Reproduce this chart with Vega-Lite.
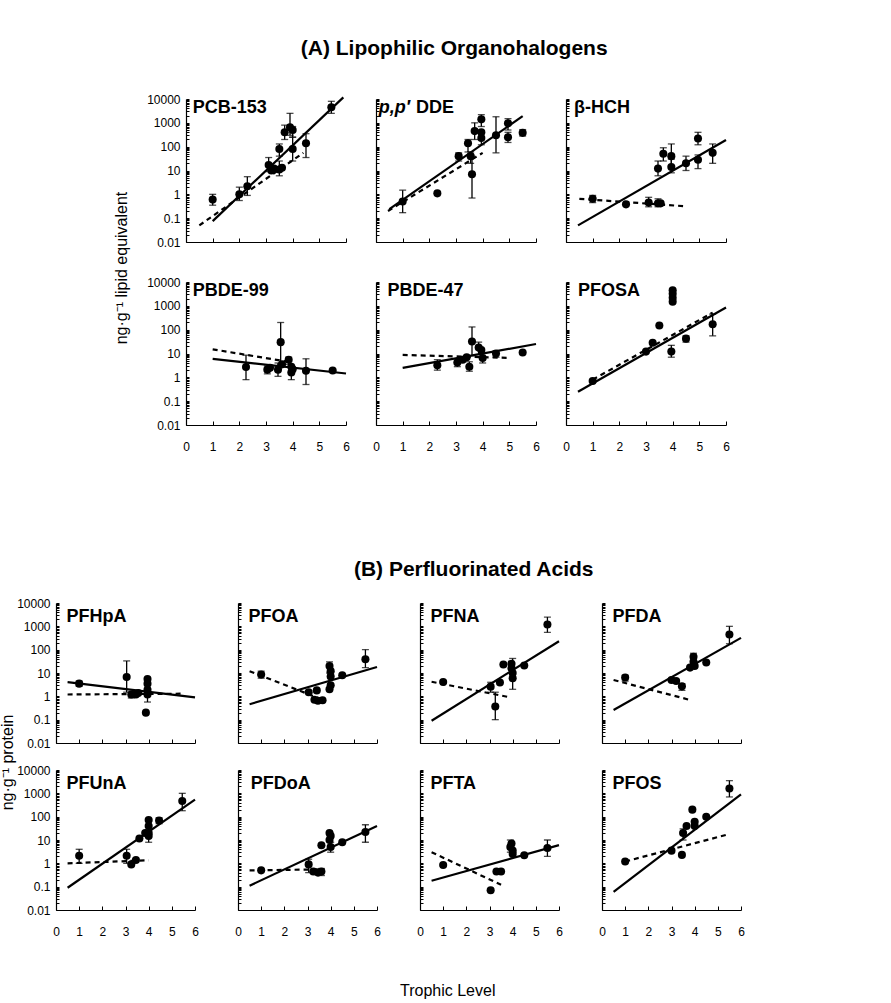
{
"$schema": "https://vega.github.io/schema/vega-lite/v6.json",
"padding": {"left": 0, "top": 37, "right": 5, "bottom": 5},
"background": "white",
"config": {
 "view": {"stroke": null},
 "font": "Liberation Sans",
 "axis": {"grid": false, "domainColor": "black", "domainWidth": 1.2, "tickColor": "black", "tickWidth": 1, "labelFont": "Liberation Sans", "labelFontSize": 12, "labelColor": "black", "labelOverlap": false, "labelFlush": false},
 "axisX": {"tickSize": -4, "labelPadding": 20},
 "axisY": {"tickSize": -3, "labelPadding": 9},
 "title": {"color": "black", "font": "Liberation Sans"},
 "circle": {"color": "black", "opacity": 1, "size": 65},
 "rule": {"color": "black", "strokeWidth": 1.3},
 "tick": {"color": "black", "thickness": 1.3},
 "line": {"color": "black", "strokeWidth": 2.2},
 "text": {"color": "black", "font": "Liberation Sans"}
},
"datasets": {"d": [
{"p":"PCB-153","k":"pt","x":1,"v":0.6,"lo":0.35,"hi":1},
{"p":"PCB-153","k":"pt","x":2,"v":1,"lo":0.55,"hi":2},
{"p":"PCB-153","k":"pt","x":2.3,"v":2.2,"lo":0.9,"hi":5.5},
{"p":"PCB-153","k":"pt","x":3.1,"v":17,"lo":9,"hi":35},
{"p":"PCB-153","k":"pt","x":3.2,"v":10},
{"p":"PCB-153","k":"pt","x":3.3,"v":12},
{"p":"PCB-153","k":"pt","x":3.5,"v":11,"lo":6,"hi":25},
{"p":"PCB-153","k":"pt","x":3.6,"v":13},
{"p":"PCB-153","k":"pt","x":3.5,"v":80,"lo":40,"hi":130},
{"p":"PCB-153","k":"pt","x":3.7,"v":400,"lo":200,"hi":800},
{"p":"PCB-153","k":"pt","x":3.9,"v":650,"lo":300,"hi":2500},
{"p":"PCB-153","k":"pt","x":4,"v":500,"lo":250,"hi":700},
{"p":"PCB-153","k":"pt","x":4,"v":80,"lo":25,"hi":250},
{"p":"PCB-153","k":"pt","x":4.5,"v":140,"lo":35,"hi":350},
{"p":"PCB-153","k":"pt","x":5.45,"v":4500,"lo":2500,"hi":8000},
{"p":"PCB-153","k":"s","x":1,"v":0.075},
{"p":"PCB-153","k":"s","x":5.9,"v":11700},
{"p":"PCB-153","k":"d","x":0.5,"v":0.05},
{"p":"PCB-153","k":"d","x":4.4,"v":55},
{"p":"DDE","k":"pt","x":1,"v":0.5,"lo":0.17,"hi":1.5},
{"p":"DDE","k":"pt","x":2.3,"v":1.1},
{"p":"DDE","k":"pt","x":3.1,"v":40,"lo":25,"hi":55},
{"p":"DDE","k":"pt","x":3.45,"v":140,"lo":60,"hi":200},
{"p":"DDE","k":"pt","x":3.55,"v":40,"lo":20,"hi":60},
{"p":"DDE","k":"pt","x":3.6,"v":7,"lo":0.7,"hi":40},
{"p":"DDE","k":"pt","x":3.7,"v":450,"lo":200,"hi":1000},
{"p":"DDE","k":"pt","x":3.95,"v":1400,"lo":700,"hi":2200},
{"p":"DDE","k":"pt","x":3.95,"v":400},
{"p":"DDE","k":"pt","x":3.95,"v":230,"lo":120,"hi":450},
{"p":"DDE","k":"pt","x":4.5,"v":300,"lo":55,"hi":1800},
{"p":"DDE","k":"pt","x":4.95,"v":950,"lo":500,"hi":1500},
{"p":"DDE","k":"pt","x":4.95,"v":250,"lo":150,"hi":400},
{"p":"DDE","k":"pt","x":5.5,"v":380,"lo":280,"hi":520},
{"p":"DDE","k":"s","x":0.5,"v":0.24},
{"p":"DDE","k":"s","x":5.5,"v":1900},
{"p":"DDE","k":"d","x":0.45,"v":0.2},
{"p":"DDE","k":"d","x":4,"v":55},
{"p":"HCH","k":"pt","x":1,"v":0.65,"lo":0.45,"hi":0.9},
{"p":"HCH","k":"pt","x":2.25,"v":0.38},
{"p":"HCH","k":"pt","x":3.1,"v":0.45,"lo":0.3,"hi":0.75},
{"p":"HCH","k":"pt","x":3.45,"v":0.42,"lo":0.3,"hi":0.65},
{"p":"HCH","k":"pt","x":3.55,"v":0.42},
{"p":"HCH","k":"pt","x":3.45,"v":12,"lo":6,"hi":25},
{"p":"HCH","k":"pt","x":3.65,"v":50,"lo":25,"hi":90},
{"p":"HCH","k":"pt","x":3.95,"v":40,"lo":15,"hi":130},
{"p":"HCH","k":"pt","x":3.95,"v":14,"lo":8,"hi":30},
{"p":"HCH","k":"pt","x":4.5,"v":20,"lo":10,"hi":40},
{"p":"HCH","k":"pt","x":4.95,"v":28,"lo":12,"hi":45},
{"p":"HCH","k":"pt","x":4.95,"v":220,"lo":120,"hi":400},
{"p":"HCH","k":"pt","x":5.5,"v":55,"lo":20,"hi":130},
{"p":"HCH","k":"s","x":0.45,"v":0.05},
{"p":"HCH","k":"s","x":6,"v":190},
{"p":"HCH","k":"d","x":0.5,"v":0.65},
{"p":"HCH","k":"d","x":4.4,"v":0.32},
{"p":"PBDE-99","k":"pt","x":2.25,"v":2.7,"lo":0.8,"hi":8.5},
{"p":"PBDE-99","k":"pt","x":3.05,"v":2.1,"lo":1.4,"hi":3},
{"p":"PBDE-99","k":"pt","x":3.15,"v":2.5},
{"p":"PBDE-99","k":"pt","x":3.45,"v":2.1,"lo":1.1,"hi":4},
{"p":"PBDE-99","k":"pt","x":3.6,"v":3.5},
{"p":"PBDE-99","k":"pt","x":3.55,"v":30,"lo":3.5,"hi":200},
{"p":"PBDE-99","k":"pt","x":3.85,"v":5.5,"lo":3.5,"hi":7},
{"p":"PBDE-99","k":"pt","x":3.95,"v":2.8},
{"p":"PBDE-99","k":"pt","x":3.95,"v":1.6,"lo":0.8,"hi":3},
{"p":"PBDE-99","k":"pt","x":4,"v":2.2},
{"p":"PBDE-99","k":"pt","x":4.5,"v":1.9,"lo":0.5,"hi":6},
{"p":"PBDE-99","k":"pt","x":5.5,"v":1.95},
{"p":"PBDE-99","k":"s","x":1,"v":6},
{"p":"PBDE-99","k":"s","x":6,"v":1.45},
{"p":"PBDE-99","k":"d","x":1,"v":15},
{"p":"PBDE-99","k":"d","x":4,"v":4.2},
{"p":"PBDE-47","k":"pt","x":2.3,"v":3.2,"lo":2,"hi":5.5},
{"p":"PBDE-47","k":"pt","x":3.05,"v":4.2,"lo":2.8,"hi":6},
{"p":"PBDE-47","k":"pt","x":3.25,"v":5.5},
{"p":"PBDE-47","k":"pt","x":3.4,"v":7},
{"p":"PBDE-47","k":"pt","x":3.5,"v":2.8,"lo":1.8,"hi":4.5},
{"p":"PBDE-47","k":"pt","x":3.6,"v":32,"lo":8,"hi":130},
{"p":"PBDE-47","k":"pt","x":3.85,"v":18,"lo":9,"hi":30},
{"p":"PBDE-47","k":"pt","x":3.95,"v":14},
{"p":"PBDE-47","k":"pt","x":4,"v":6.5,"lo":4,"hi":10},
{"p":"PBDE-47","k":"pt","x":4.5,"v":10,"lo":7,"hi":13},
{"p":"PBDE-47","k":"pt","x":5.5,"v":11},
{"p":"PBDE-47","k":"s","x":1,"v":2.5},
{"p":"PBDE-47","k":"s","x":6,"v":25},
{"p":"PBDE-47","k":"d","x":1,"v":8.7},
{"p":"PBDE-47","k":"d","x":4.9,"v":6.6},
{"p":"PFOSA","k":"pt","x":1,"v":0.7},
{"p":"PFOSA","k":"pt","x":3,"v":12},
{"p":"PFOSA","k":"pt","x":3.25,"v":28},
{"p":"PFOSA","k":"pt","x":3.5,"v":150},
{"p":"PFOSA","k":"pt","x":3.95,"v":12,"lo":7,"hi":22},
{"p":"PFOSA","k":"pt","x":4,"v":4500},
{"p":"PFOSA","k":"pt","x":4,"v":3200},
{"p":"PFOSA","k":"pt","x":4,"v":2200},
{"p":"PFOSA","k":"pt","x":4,"v":1500},
{"p":"PFOSA","k":"pt","x":4.5,"v":42,"lo":30,"hi":55},
{"p":"PFOSA","k":"pt","x":5.5,"v":170,"lo":55,"hi":450},
{"p":"PFOSA","k":"s","x":0.45,"v":0.25},
{"p":"PFOSA","k":"s","x":6,"v":850},
{"p":"PFOSA","k":"d","x":1,"v":0.8},
{"p":"PFOSA","k":"d","x":5.5,"v":520},
{"p":"PFHpA","k":"pt","x":1,"v":3.5,"lo":2.7,"hi":4.5},
{"p":"PFHpA","k":"pt","x":3.05,"v":6.8,"lo":1.5,"hi":33},
{"p":"PFHpA","k":"pt","x":3.25,"v":1.2,"lo":0.85,"hi":1.5},
{"p":"PFHpA","k":"pt","x":3.45,"v":1.2},
{"p":"PFHpA","k":"pt","x":3.55,"v":1.4},
{"p":"PFHpA","k":"pt","x":3.88,"v":0.2},
{"p":"PFHpA","k":"pt","x":3.95,"v":5.5},
{"p":"PFHpA","k":"pt","x":3.95,"v":3.5},
{"p":"PFHpA","k":"pt","x":3.95,"v":1.9},
{"p":"PFHpA","k":"pt","x":3.95,"v":1.2,"lo":0.57,"hi":2},
{"p":"PFHpA","k":"s","x":0.5,"v":4.1},
{"p":"PFHpA","k":"s","x":6,"v":0.9},
{"p":"PFHpA","k":"d","x":0.5,"v":1.2},
{"p":"PFHpA","k":"d","x":5.5,"v":1.3},
{"p":"PFOA","k":"pt","x":1,"v":8.7,"lo":6,"hi":12},
{"p":"PFOA","k":"pt","x":3.05,"v":1.5},
{"p":"PFOA","k":"pt","x":3.4,"v":1.8},
{"p":"PFOA","k":"pt","x":3.3,"v":0.72},
{"p":"PFOA","k":"pt","x":3.45,"v":0.65},
{"p":"PFOA","k":"pt","x":3.65,"v":0.68},
{"p":"PFOA","k":"pt","x":3.95,"v":20,"lo":10,"hi":30},
{"p":"PFOA","k":"pt","x":4,"v":12},
{"p":"PFOA","k":"pt","x":4,"v":7},
{"p":"PFOA","k":"pt","x":4,"v":3},
{"p":"PFOA","k":"pt","x":3.95,"v":2},
{"p":"PFOA","k":"pt","x":4.5,"v":8},
{"p":"PFOA","k":"pt","x":5.5,"v":39,"lo":17,"hi":100},
{"p":"PFOA","k":"s","x":0.5,"v":0.46},
{"p":"PFOA","k":"s","x":6,"v":18},
{"p":"PFOA","k":"d","x":0.5,"v":12},
{"p":"PFOA","k":"d","x":3.6,"v":0.75},
{"p":"PFNA","k":"pt","x":1,"v":4.1},
{"p":"PFNA","k":"pt","x":3.05,"v":2.6,"lo":1.5,"hi":4},
{"p":"PFNA","k":"pt","x":3.25,"v":0.37,"lo":0.1,"hi":1.5},
{"p":"PFNA","k":"pt","x":3.45,"v":3.9},
{"p":"PFNA","k":"pt","x":3.6,"v":23},
{"p":"PFNA","k":"pt","x":3.95,"v":25},
{"p":"PFNA","k":"pt","x":3.95,"v":16},
{"p":"PFNA","k":"pt","x":4,"v":10,"lo":2,"hi":42},
{"p":"PFNA","k":"pt","x":4,"v":6},
{"p":"PFNA","k":"pt","x":4.5,"v":21},
{"p":"PFNA","k":"pt","x":5.5,"v":1200,"lo":550,"hi":2500},
{"p":"PFNA","k":"s","x":0.5,"v":0.09},
{"p":"PFNA","k":"s","x":6,"v":230},
{"p":"PFNA","k":"d","x":0.5,"v":4.2},
{"p":"PFNA","k":"d","x":3.9,"v":0.9},
{"p":"PFDA","k":"pt","x":1,"v":6.4,"lo":4.5,"hi":8},
{"p":"PFDA","k":"pt","x":3,"v":5},
{"p":"PFDA","k":"pt","x":3.2,"v":4.5},
{"p":"PFDA","k":"pt","x":3.45,"v":2.7,"lo":1.8,"hi":3.5},
{"p":"PFDA","k":"pt","x":3.8,"v":17},
{"p":"PFDA","k":"pt","x":3.95,"v":50,"lo":25,"hi":70},
{"p":"PFDA","k":"pt","x":3.95,"v":30},
{"p":"PFDA","k":"pt","x":4,"v":20},
{"p":"PFDA","k":"pt","x":4.5,"v":28},
{"p":"PFDA","k":"pt","x":5.5,"v":450,"lo":180,"hi":1000},
{"p":"PFDA","k":"s","x":0.5,"v":0.26},
{"p":"PFDA","k":"s","x":6,"v":320},
{"p":"PFDA","k":"d","x":0.5,"v":5},
{"p":"PFDA","k":"d","x":3.8,"v":0.7},
{"p":"PFUnA","k":"pt","x":1,"v":2.1,"lo":1,"hi":4},
{"p":"PFUnA","k":"pt","x":3.05,"v":2.1,"lo":1,"hi":4},
{"p":"PFUnA","k":"pt","x":3.25,"v":0.9},
{"p":"PFUnA","k":"pt","x":3.45,"v":1.4},
{"p":"PFUnA","k":"pt","x":3.6,"v":11.5},
{"p":"PFUnA","k":"pt","x":3.85,"v":20},
{"p":"PFUnA","k":"pt","x":4,"v":72},
{"p":"PFUnA","k":"pt","x":4,"v":40},
{"p":"PFUnA","k":"pt","x":4,"v":20},
{"p":"PFUnA","k":"pt","x":4,"v":15,"lo":8,"hi":25},
{"p":"PFUnA","k":"pt","x":4.45,"v":68,"lo":50,"hi":90},
{"p":"PFUnA","k":"pt","x":5.45,"v":470,"lo":180,"hi":1000},
{"p":"PFUnA","k":"s","x":0.5,"v":0.09},
{"p":"PFUnA","k":"s","x":6,"v":540},
{"p":"PFUnA","k":"d","x":0.5,"v":1},
{"p":"PFUnA","k":"d","x":4,"v":1.35},
{"p":"PFDoA","k":"pt","x":1,"v":0.5},
{"p":"PFDoA","k":"pt","x":3.05,"v":0.9,"lo":0.4,"hi":1.5},
{"p":"PFDoA","k":"pt","x":3.25,"v":0.45},
{"p":"PFDoA","k":"pt","x":3.45,"v":0.4},
{"p":"PFDoA","k":"pt","x":3.6,"v":0.45,"lo":0.3,"hi":0.6},
{"p":"PFDoA","k":"pt","x":3.6,"v":6},
{"p":"PFDoA","k":"pt","x":3.95,"v":20},
{"p":"PFDoA","k":"pt","x":4,"v":15},
{"p":"PFDoA","k":"pt","x":3.95,"v":10},
{"p":"PFDoA","k":"pt","x":4,"v":5,"lo":3,"hi":8},
{"p":"PFDoA","k":"pt","x":4.5,"v":8},
{"p":"PFDoA","k":"pt","x":5.5,"v":22,"lo":8,"hi":45},
{"p":"PFDoA","k":"s","x":0.5,"v":0.11},
{"p":"PFDoA","k":"s","x":6,"v":40},
{"p":"PFDoA","k":"d","x":0.5,"v":0.5},
{"p":"PFDoA","k":"d","x":3.7,"v":0.55},
{"p":"PFTA","k":"pt","x":1,"v":0.85},
{"p":"PFTA","k":"pt","x":3.05,"v":0.07},
{"p":"PFTA","k":"pt","x":3.3,"v":0.45},
{"p":"PFTA","k":"pt","x":3.5,"v":0.45},
{"p":"PFTA","k":"pt","x":3.9,"v":5,"lo":3,"hi":10},
{"p":"PFTA","k":"pt","x":4,"v":3.5},
{"p":"PFTA","k":"pt","x":4,"v":2.5},
{"p":"PFTA","k":"pt","x":3.95,"v":7},
{"p":"PFTA","k":"pt","x":4.5,"v":2.2},
{"p":"PFTA","k":"pt","x":5.5,"v":4.5,"lo":2,"hi":10},
{"p":"PFTA","k":"s","x":0.5,"v":0.18},
{"p":"PFTA","k":"s","x":6,"v":6},
{"p":"PFTA","k":"d","x":0.5,"v":3},
{"p":"PFTA","k":"d","x":3.5,"v":0.12},
{"p":"PFOS","k":"pt","x":1,"v":1.2},
{"p":"PFOS","k":"pt","x":3,"v":3.5},
{"p":"PFOS","k":"pt","x":3.45,"v":2.3},
{"p":"PFOS","k":"pt","x":3.5,"v":20,"lo":10,"hi":30},
{"p":"PFOS","k":"pt","x":3.65,"v":40},
{"p":"PFOS","k":"pt","x":3.9,"v":200},
{"p":"PFOS","k":"pt","x":4,"v":60},
{"p":"PFOS","k":"pt","x":4,"v":40},
{"p":"PFOS","k":"pt","x":4.5,"v":100},
{"p":"PFOS","k":"pt","x":5.5,"v":1600,"lo":700,"hi":3500},
{"p":"PFOS","k":"s","x":0.5,"v":0.06},
{"p":"PFOS","k":"s","x":6,"v":900},
{"p":"PFOS","k":"d","x":1,"v":1.2},
{"p":"PFOS","k":"d","x":5.5,"v":18}
]},
"title": {"text": "Trophic Level", "orient": "bottom", "anchor": "middle", "fontSize": 16, "fontWeight": "normal", "offset": 46, "dx": 75},
"spacing": 107,
"vconcat": [
{"title": {"text": "(A) Lipophilic Organohalogens", "anchor": "middle", "dx": 88, "offset": 34, "fontSize": 21, "fontWeight": "bold"},
 "spacing": 6,
 "hconcat": [
  {"width": 138, "height": 338, "data": {"values": [{}]}, "mark": {"type": "text", "angle": 270, "fontSize": 16, "baseline": "middle", "align": "center"},
   "encoding": {"x": {"datum": 0.87, "type": "quantitative", "scale": {"domain": [0, 1]}, "axis": null}, "y": {"datum": 0.5, "type": "quantitative", "scale": {"domain": [0, 1]}, "axis": null}, "text": {"value": "ng·g⁻¹ lipid equivalent"}}},
  {"columns": 3, "spacing": {"row": 40, "column": 30}, "bounds": "flush", "concat": [
   {"width":160,"height":143,"data":{"name":"d"},"transform":[{"filter":"datum.p==='PCB-153'"}],
    "layer":[
     {"encoding":{"x":{"field":"x","type":"quantitative","scale":{"domain":[0,6],"nice":false,"zero":false},"axis":{"values":[0,1,2,3,4,5,6],"labels":false,"labelOverlap":false,"title":null}}},
      "layer":[
       {"transform":[{"filter":"isValid(datum.lo)"}],"mark":"rule","encoding":{"y":{"field":"lo","type":"quantitative","scale":{"type":"log","domain":[0.01,10000],"nice":false}},"y2":{"field":"hi"}}},
       {"transform":[{"filter":"isValid(datum.lo)"}],"mark":{"type":"tick","orient":"horizontal","size":7},"encoding":{"y":{"field":"lo","type":"quantitative","scale":{"type":"log","domain":[0.01,10000],"nice":false}}}},
       {"transform":[{"filter":"isValid(datum.hi)"}],"mark":{"type":"tick","orient":"horizontal","size":7},"encoding":{"y":{"field":"hi","type":"quantitative","scale":{"type":"log","domain":[0.01,10000],"nice":false}}}},
       {"transform":[{"filter":"datum.k==='s'"}],"mark":"line","encoding":{"y":{"field":"v","type":"quantitative","scale":{"type":"log","domain":[0.01,10000],"nice":false}}}},
       {"transform":[{"filter":"datum.k==='d'"}],"mark":{"type":"line","strokeDash":[5,4]},"encoding":{"y":{"field":"v","type":"quantitative","scale":{"type":"log","domain":[0.01,10000],"nice":false}}}},
       {"transform":[{"filter":"datum.k==='pt'"}],"mark":"circle","encoding":{"y":{"field":"v","type":"quantitative","scale":{"type":"log","domain":[0.01,10000],"nice":false},"axis":{"values":[0.01,0.02,0.03,0.04,0.05,0.06,0.07,0.08,0.09,0.1,0.2,0.3,0.4,0.5,0.6,0.7,0.8,0.9,1,2,3,4,5,6,7,8,9,10,20,30,40,50,60,70,80,90,100,200,300,400,500,600,700,800,900,1000,2000,3000,4000,5000,6000,7000,8000,9000,10000],"labelExpr":"abs(log(datum.value)/LN10-round(log(datum.value)/LN10))<0.001 ? format(datum.value,'') : ''","labels":true,"labelOverlap":false,"title":null}}}}
      ]},
     {"data":{"values":[{"p":"PCB-153","t":"PCB-153"}]},"mark":{"type":"text","align":"left","baseline":"middle","fontWeight":"bold","fontSize":18},"encoding":{"x":{"datum":0.25,"type":"quantitative","axis":{"values":[0,1,2,3,4,5,6],"labels":false,"labelOverlap":false,"title":null}},"y":{"datum":4300,"type":"quantitative"},"text":{"field":"t"}}}
    ]},
   {"width":160,"height":143,"data":{"name":"d"},"transform":[{"filter":"datum.p==='DDE'"}],
    "layer":[
     {"encoding":{"x":{"field":"x","type":"quantitative","scale":{"domain":[0,6],"nice":false,"zero":false},"axis":{"values":[0,1,2,3,4,5,6],"labels":false,"labelOverlap":false,"title":null}}},
      "layer":[
       {"transform":[{"filter":"isValid(datum.lo)"}],"mark":"rule","encoding":{"y":{"field":"lo","type":"quantitative","scale":{"type":"log","domain":[0.01,10000],"nice":false}},"y2":{"field":"hi"}}},
       {"transform":[{"filter":"isValid(datum.lo)"}],"mark":{"type":"tick","orient":"horizontal","size":7},"encoding":{"y":{"field":"lo","type":"quantitative","scale":{"type":"log","domain":[0.01,10000],"nice":false}}}},
       {"transform":[{"filter":"isValid(datum.hi)"}],"mark":{"type":"tick","orient":"horizontal","size":7},"encoding":{"y":{"field":"hi","type":"quantitative","scale":{"type":"log","domain":[0.01,10000],"nice":false}}}},
       {"transform":[{"filter":"datum.k==='s'"}],"mark":"line","encoding":{"y":{"field":"v","type":"quantitative","scale":{"type":"log","domain":[0.01,10000],"nice":false}}}},
       {"transform":[{"filter":"datum.k==='d'"}],"mark":{"type":"line","strokeDash":[5,4]},"encoding":{"y":{"field":"v","type":"quantitative","scale":{"type":"log","domain":[0.01,10000],"nice":false}}}},
       {"transform":[{"filter":"datum.k==='pt'"}],"mark":"circle","encoding":{"y":{"field":"v","type":"quantitative","scale":{"type":"log","domain":[0.01,10000],"nice":false},"axis":{"values":[0.01,0.02,0.03,0.04,0.05,0.06,0.07,0.08,0.09,0.1,0.2,0.3,0.4,0.5,0.6,0.7,0.8,0.9,1,2,3,4,5,6,7,8,9,10,20,30,40,50,60,70,80,90,100,200,300,400,500,600,700,800,900,1000,2000,3000,4000,5000,6000,7000,8000,9000,10000],"labels":false,"title":null}}}}
      ]},
     {"data":{"values":[{"p":"DDE","t":"p,p′"}]},"mark":{"type":"text","align":"left","baseline":"middle","fontWeight":"bold","fontStyle":"italic","fontSize":18},"encoding":{"x":{"datum":0.1,"type":"quantitative","axis":{"values":[0,1,2,3,4,5,6],"labels":false,"labelOverlap":false,"title":null}},"y":{"datum":4300,"type":"quantitative"},"text":{"field":"t"}}},
     {"data":{"values":[{"p":"DDE","t":"DDE"}]},"mark":{"type":"text","align":"left","baseline":"middle","fontWeight":"bold","fontSize":18},"encoding":{"x":{"datum":1.5,"type":"quantitative","axis":{"values":[0,1,2,3,4,5,6],"labels":false,"labelOverlap":false,"title":null}},"y":{"datum":4300,"type":"quantitative"},"text":{"field":"t"}}}
    ]},
   {"width":160,"height":143,"data":{"name":"d"},"transform":[{"filter":"datum.p==='HCH'"}],
    "layer":[
     {"encoding":{"x":{"field":"x","type":"quantitative","scale":{"domain":[0,6],"nice":false,"zero":false},"axis":{"values":[0,1,2,3,4,5,6],"labels":false,"labelOverlap":false,"title":null}}},
      "layer":[
       {"transform":[{"filter":"isValid(datum.lo)"}],"mark":"rule","encoding":{"y":{"field":"lo","type":"quantitative","scale":{"type":"log","domain":[0.01,10000],"nice":false}},"y2":{"field":"hi"}}},
       {"transform":[{"filter":"isValid(datum.lo)"}],"mark":{"type":"tick","orient":"horizontal","size":7},"encoding":{"y":{"field":"lo","type":"quantitative","scale":{"type":"log","domain":[0.01,10000],"nice":false}}}},
       {"transform":[{"filter":"isValid(datum.hi)"}],"mark":{"type":"tick","orient":"horizontal","size":7},"encoding":{"y":{"field":"hi","type":"quantitative","scale":{"type":"log","domain":[0.01,10000],"nice":false}}}},
       {"transform":[{"filter":"datum.k==='s'"}],"mark":"line","encoding":{"y":{"field":"v","type":"quantitative","scale":{"type":"log","domain":[0.01,10000],"nice":false}}}},
       {"transform":[{"filter":"datum.k==='d'"}],"mark":{"type":"line","strokeDash":[5,4]},"encoding":{"y":{"field":"v","type":"quantitative","scale":{"type":"log","domain":[0.01,10000],"nice":false}}}},
       {"transform":[{"filter":"datum.k==='pt'"}],"mark":"circle","encoding":{"y":{"field":"v","type":"quantitative","scale":{"type":"log","domain":[0.01,10000],"nice":false},"axis":{"values":[0.01,0.02,0.03,0.04,0.05,0.06,0.07,0.08,0.09,0.1,0.2,0.3,0.4,0.5,0.6,0.7,0.8,0.9,1,2,3,4,5,6,7,8,9,10,20,30,40,50,60,70,80,90,100,200,300,400,500,600,700,800,900,1000,2000,3000,4000,5000,6000,7000,8000,9000,10000],"labels":false,"title":null}}}}
      ]},
     {"data":{"values":[{"p":"HCH","t":"β-HCH"}]},"mark":{"type":"text","align":"left","baseline":"middle","fontWeight":"bold","fontSize":18},"encoding":{"x":{"datum":0.3,"type":"quantitative","axis":{"values":[0,1,2,3,4,5,6],"labels":false,"labelOverlap":false,"title":null}},"y":{"datum":4300,"type":"quantitative"},"text":{"field":"t"}}}
    ]},
   {"width":160,"height":143,"data":{"name":"d"},"transform":[{"filter":"datum.p==='PBDE-99'"}],
    "layer":[
     {"encoding":{"x":{"field":"x","type":"quantitative","scale":{"domain":[0,6],"nice":false,"zero":false},"axis":{"values":[0,1,2,3,4,5,6],"labels":true,"labelOverlap":false,"title":null}}},
      "layer":[
       {"transform":[{"filter":"isValid(datum.lo)"}],"mark":"rule","encoding":{"y":{"field":"lo","type":"quantitative","scale":{"type":"log","domain":[0.01,10000],"nice":false}},"y2":{"field":"hi"}}},
       {"transform":[{"filter":"isValid(datum.lo)"}],"mark":{"type":"tick","orient":"horizontal","size":7},"encoding":{"y":{"field":"lo","type":"quantitative","scale":{"type":"log","domain":[0.01,10000],"nice":false}}}},
       {"transform":[{"filter":"isValid(datum.hi)"}],"mark":{"type":"tick","orient":"horizontal","size":7},"encoding":{"y":{"field":"hi","type":"quantitative","scale":{"type":"log","domain":[0.01,10000],"nice":false}}}},
       {"transform":[{"filter":"datum.k==='s'"}],"mark":"line","encoding":{"y":{"field":"v","type":"quantitative","scale":{"type":"log","domain":[0.01,10000],"nice":false}}}},
       {"transform":[{"filter":"datum.k==='d'"}],"mark":{"type":"line","strokeDash":[5,4]},"encoding":{"y":{"field":"v","type":"quantitative","scale":{"type":"log","domain":[0.01,10000],"nice":false}}}},
       {"transform":[{"filter":"datum.k==='pt'"}],"mark":"circle","encoding":{"y":{"field":"v","type":"quantitative","scale":{"type":"log","domain":[0.01,10000],"nice":false},"axis":{"values":[0.01,0.02,0.03,0.04,0.05,0.06,0.07,0.08,0.09,0.1,0.2,0.3,0.4,0.5,0.6,0.7,0.8,0.9,1,2,3,4,5,6,7,8,9,10,20,30,40,50,60,70,80,90,100,200,300,400,500,600,700,800,900,1000,2000,3000,4000,5000,6000,7000,8000,9000,10000],"labelExpr":"abs(log(datum.value)/LN10-round(log(datum.value)/LN10))<0.001 ? format(datum.value,'') : ''","labels":true,"labelOverlap":false,"title":null}}}}
      ]},
     {"data":{"values":[{"p":"PBDE-99","t":"PBDE-99"}]},"mark":{"type":"text","align":"left","baseline":"middle","fontWeight":"bold","fontSize":18},"encoding":{"x":{"datum":0.25,"type":"quantitative","axis":{"values":[0,1,2,3,4,5,6],"labels":true,"labelOverlap":false,"title":null}},"y":{"datum":4300,"type":"quantitative"},"text":{"field":"t"}}}
    ]},
   {"width":160,"height":143,"data":{"name":"d"},"transform":[{"filter":"datum.p==='PBDE-47'"}],
    "layer":[
     {"encoding":{"x":{"field":"x","type":"quantitative","scale":{"domain":[0,6],"nice":false,"zero":false},"axis":{"values":[0,1,2,3,4,5,6],"labels":true,"labelOverlap":false,"title":null}}},
      "layer":[
       {"transform":[{"filter":"isValid(datum.lo)"}],"mark":"rule","encoding":{"y":{"field":"lo","type":"quantitative","scale":{"type":"log","domain":[0.01,10000],"nice":false}},"y2":{"field":"hi"}}},
       {"transform":[{"filter":"isValid(datum.lo)"}],"mark":{"type":"tick","orient":"horizontal","size":7},"encoding":{"y":{"field":"lo","type":"quantitative","scale":{"type":"log","domain":[0.01,10000],"nice":false}}}},
       {"transform":[{"filter":"isValid(datum.hi)"}],"mark":{"type":"tick","orient":"horizontal","size":7},"encoding":{"y":{"field":"hi","type":"quantitative","scale":{"type":"log","domain":[0.01,10000],"nice":false}}}},
       {"transform":[{"filter":"datum.k==='s'"}],"mark":"line","encoding":{"y":{"field":"v","type":"quantitative","scale":{"type":"log","domain":[0.01,10000],"nice":false}}}},
       {"transform":[{"filter":"datum.k==='d'"}],"mark":{"type":"line","strokeDash":[5,4]},"encoding":{"y":{"field":"v","type":"quantitative","scale":{"type":"log","domain":[0.01,10000],"nice":false}}}},
       {"transform":[{"filter":"datum.k==='pt'"}],"mark":"circle","encoding":{"y":{"field":"v","type":"quantitative","scale":{"type":"log","domain":[0.01,10000],"nice":false},"axis":{"values":[0.01,0.02,0.03,0.04,0.05,0.06,0.07,0.08,0.09,0.1,0.2,0.3,0.4,0.5,0.6,0.7,0.8,0.9,1,2,3,4,5,6,7,8,9,10,20,30,40,50,60,70,80,90,100,200,300,400,500,600,700,800,900,1000,2000,3000,4000,5000,6000,7000,8000,9000,10000],"labels":false,"title":null}}}}
      ]},
     {"data":{"values":[{"p":"PBDE-47","t":"PBDE-47"}]},"mark":{"type":"text","align":"left","baseline":"middle","fontWeight":"bold","fontSize":18},"encoding":{"x":{"datum":0.43,"type":"quantitative","axis":{"values":[0,1,2,3,4,5,6],"labels":true,"labelOverlap":false,"title":null}},"y":{"datum":4300,"type":"quantitative"},"text":{"field":"t"}}}
    ]},
   {"width":160,"height":143,"data":{"name":"d"},"transform":[{"filter":"datum.p==='PFOSA'"}],
    "layer":[
     {"encoding":{"x":{"field":"x","type":"quantitative","scale":{"domain":[0,6],"nice":false,"zero":false},"axis":{"values":[0,1,2,3,4,5,6],"labels":true,"labelOverlap":false,"title":null}}},
      "layer":[
       {"transform":[{"filter":"isValid(datum.lo)"}],"mark":"rule","encoding":{"y":{"field":"lo","type":"quantitative","scale":{"type":"log","domain":[0.01,10000],"nice":false}},"y2":{"field":"hi"}}},
       {"transform":[{"filter":"isValid(datum.lo)"}],"mark":{"type":"tick","orient":"horizontal","size":7},"encoding":{"y":{"field":"lo","type":"quantitative","scale":{"type":"log","domain":[0.01,10000],"nice":false}}}},
       {"transform":[{"filter":"isValid(datum.hi)"}],"mark":{"type":"tick","orient":"horizontal","size":7},"encoding":{"y":{"field":"hi","type":"quantitative","scale":{"type":"log","domain":[0.01,10000],"nice":false}}}},
       {"transform":[{"filter":"datum.k==='s'"}],"mark":"line","encoding":{"y":{"field":"v","type":"quantitative","scale":{"type":"log","domain":[0.01,10000],"nice":false}}}},
       {"transform":[{"filter":"datum.k==='d'"}],"mark":{"type":"line","strokeDash":[5,4]},"encoding":{"y":{"field":"v","type":"quantitative","scale":{"type":"log","domain":[0.01,10000],"nice":false}}}},
       {"transform":[{"filter":"datum.k==='pt'"}],"mark":"circle","encoding":{"y":{"field":"v","type":"quantitative","scale":{"type":"log","domain":[0.01,10000],"nice":false},"axis":{"values":[0.01,0.02,0.03,0.04,0.05,0.06,0.07,0.08,0.09,0.1,0.2,0.3,0.4,0.5,0.6,0.7,0.8,0.9,1,2,3,4,5,6,7,8,9,10,20,30,40,50,60,70,80,90,100,200,300,400,500,600,700,800,900,1000,2000,3000,4000,5000,6000,7000,8000,9000,10000],"labels":false,"title":null}}}}
      ]},
     {"data":{"values":[{"p":"PFOSA","t":"PFOSA"}]},"mark":{"type":"text","align":"left","baseline":"middle","fontWeight":"bold","fontSize":18},"encoding":{"x":{"datum":0.45,"type":"quantitative","axis":{"values":[0,1,2,3,4,5,6],"labels":true,"labelOverlap":false,"title":null}},"y":{"datum":4300,"type":"quantitative"},"text":{"field":"t"}}}
    ]}
  ]}
 ]},
{"title": {"text": "(B) Perfluorinated Acids", "anchor": "middle", "dx": 101, "offset": 17, "fontSize": 21, "fontWeight": "bold"},
 "spacing": 0,
 "hconcat": [
  {"width": 10, "height": 319, "data": {"values": [{}]}, "mark": {"type": "text", "angle": 270, "fontSize": 16, "baseline": "middle", "align": "center"},
   "encoding": {"x": {"datum": 0.6, "type": "quantitative", "scale": {"domain": [0, 1]}, "axis": null}, "y": {"datum": 0.5, "type": "quantitative", "scale": {"domain": [0, 1]}, "axis": null}, "text": {"value": "ng·g⁻¹ protein"}}},
  {"columns": 4, "spacing": {"row": 27, "column": 43}, "bounds": "flush", "concat": [
   {"width":139,"height":140,"data":{"name":"d"},"transform":[{"filter":"datum.p==='PFHpA'"}],
    "layer":[
     {"encoding":{"x":{"field":"x","type":"quantitative","scale":{"domain":[0,6],"nice":false,"zero":false},"axis":{"values":[0,1,2,3,4,5,6],"labels":false,"labelOverlap":false,"title":null}}},
      "layer":[
       {"transform":[{"filter":"isValid(datum.lo)"}],"mark":"rule","encoding":{"y":{"field":"lo","type":"quantitative","scale":{"type":"log","domain":[0.01,10000],"nice":false}},"y2":{"field":"hi"}}},
       {"transform":[{"filter":"isValid(datum.lo)"}],"mark":{"type":"tick","orient":"horizontal","size":7},"encoding":{"y":{"field":"lo","type":"quantitative","scale":{"type":"log","domain":[0.01,10000],"nice":false}}}},
       {"transform":[{"filter":"isValid(datum.hi)"}],"mark":{"type":"tick","orient":"horizontal","size":7},"encoding":{"y":{"field":"hi","type":"quantitative","scale":{"type":"log","domain":[0.01,10000],"nice":false}}}},
       {"transform":[{"filter":"datum.k==='s'"}],"mark":"line","encoding":{"y":{"field":"v","type":"quantitative","scale":{"type":"log","domain":[0.01,10000],"nice":false}}}},
       {"transform":[{"filter":"datum.k==='d'"}],"mark":{"type":"line","strokeDash":[5,4]},"encoding":{"y":{"field":"v","type":"quantitative","scale":{"type":"log","domain":[0.01,10000],"nice":false}}}},
       {"transform":[{"filter":"datum.k==='pt'"}],"mark":"circle","encoding":{"y":{"field":"v","type":"quantitative","scale":{"type":"log","domain":[0.01,10000],"nice":false},"axis":{"values":[0.01,0.02,0.03,0.04,0.05,0.06,0.07,0.08,0.09,0.1,0.2,0.3,0.4,0.5,0.6,0.7,0.8,0.9,1,2,3,4,5,6,7,8,9,10,20,30,40,50,60,70,80,90,100,200,300,400,500,600,700,800,900,1000,2000,3000,4000,5000,6000,7000,8000,9000,10000],"labelExpr":"abs(log(datum.value)/LN10-round(log(datum.value)/LN10))<0.001 ? format(datum.value,'') : ''","labels":true,"labelOverlap":false,"title":null}}}}
      ]},
     {"data":{"values":[{"p":"PFHpA","t":"PFHpA"}]},"mark":{"type":"text","align":"left","baseline":"middle","fontWeight":"bold","fontSize":18},"encoding":{"x":{"datum":0.45,"type":"quantitative","axis":{"values":[0,1,2,3,4,5,6],"labels":false,"labelOverlap":false,"title":null}},"y":{"datum":2500,"type":"quantitative"},"text":{"field":"t"}}}
    ]},
   {"width":139,"height":140,"data":{"name":"d"},"transform":[{"filter":"datum.p==='PFOA'"}],
    "layer":[
     {"encoding":{"x":{"field":"x","type":"quantitative","scale":{"domain":[0,6],"nice":false,"zero":false},"axis":{"values":[0,1,2,3,4,5,6],"labels":false,"labelOverlap":false,"title":null}}},
      "layer":[
       {"transform":[{"filter":"isValid(datum.lo)"}],"mark":"rule","encoding":{"y":{"field":"lo","type":"quantitative","scale":{"type":"log","domain":[0.01,10000],"nice":false}},"y2":{"field":"hi"}}},
       {"transform":[{"filter":"isValid(datum.lo)"}],"mark":{"type":"tick","orient":"horizontal","size":7},"encoding":{"y":{"field":"lo","type":"quantitative","scale":{"type":"log","domain":[0.01,10000],"nice":false}}}},
       {"transform":[{"filter":"isValid(datum.hi)"}],"mark":{"type":"tick","orient":"horizontal","size":7},"encoding":{"y":{"field":"hi","type":"quantitative","scale":{"type":"log","domain":[0.01,10000],"nice":false}}}},
       {"transform":[{"filter":"datum.k==='s'"}],"mark":"line","encoding":{"y":{"field":"v","type":"quantitative","scale":{"type":"log","domain":[0.01,10000],"nice":false}}}},
       {"transform":[{"filter":"datum.k==='d'"}],"mark":{"type":"line","strokeDash":[5,4]},"encoding":{"y":{"field":"v","type":"quantitative","scale":{"type":"log","domain":[0.01,10000],"nice":false}}}},
       {"transform":[{"filter":"datum.k==='pt'"}],"mark":"circle","encoding":{"y":{"field":"v","type":"quantitative","scale":{"type":"log","domain":[0.01,10000],"nice":false},"axis":{"values":[0.01,0.02,0.03,0.04,0.05,0.06,0.07,0.08,0.09,0.1,0.2,0.3,0.4,0.5,0.6,0.7,0.8,0.9,1,2,3,4,5,6,7,8,9,10,20,30,40,50,60,70,80,90,100,200,300,400,500,600,700,800,900,1000,2000,3000,4000,5000,6000,7000,8000,9000,10000],"labels":false,"title":null}}}}
      ]},
     {"data":{"values":[{"p":"PFOA","t":"PFOA"}]},"mark":{"type":"text","align":"left","baseline":"middle","fontWeight":"bold","fontSize":18},"encoding":{"x":{"datum":0.45,"type":"quantitative","axis":{"values":[0,1,2,3,4,5,6],"labels":false,"labelOverlap":false,"title":null}},"y":{"datum":2500,"type":"quantitative"},"text":{"field":"t"}}}
    ]},
   {"width":139,"height":140,"data":{"name":"d"},"transform":[{"filter":"datum.p==='PFNA'"}],
    "layer":[
     {"encoding":{"x":{"field":"x","type":"quantitative","scale":{"domain":[0,6],"nice":false,"zero":false},"axis":{"values":[0,1,2,3,4,5,6],"labels":false,"labelOverlap":false,"title":null}}},
      "layer":[
       {"transform":[{"filter":"isValid(datum.lo)"}],"mark":"rule","encoding":{"y":{"field":"lo","type":"quantitative","scale":{"type":"log","domain":[0.01,10000],"nice":false}},"y2":{"field":"hi"}}},
       {"transform":[{"filter":"isValid(datum.lo)"}],"mark":{"type":"tick","orient":"horizontal","size":7},"encoding":{"y":{"field":"lo","type":"quantitative","scale":{"type":"log","domain":[0.01,10000],"nice":false}}}},
       {"transform":[{"filter":"isValid(datum.hi)"}],"mark":{"type":"tick","orient":"horizontal","size":7},"encoding":{"y":{"field":"hi","type":"quantitative","scale":{"type":"log","domain":[0.01,10000],"nice":false}}}},
       {"transform":[{"filter":"datum.k==='s'"}],"mark":"line","encoding":{"y":{"field":"v","type":"quantitative","scale":{"type":"log","domain":[0.01,10000],"nice":false}}}},
       {"transform":[{"filter":"datum.k==='d'"}],"mark":{"type":"line","strokeDash":[5,4]},"encoding":{"y":{"field":"v","type":"quantitative","scale":{"type":"log","domain":[0.01,10000],"nice":false}}}},
       {"transform":[{"filter":"datum.k==='pt'"}],"mark":"circle","encoding":{"y":{"field":"v","type":"quantitative","scale":{"type":"log","domain":[0.01,10000],"nice":false},"axis":{"values":[0.01,0.02,0.03,0.04,0.05,0.06,0.07,0.08,0.09,0.1,0.2,0.3,0.4,0.5,0.6,0.7,0.8,0.9,1,2,3,4,5,6,7,8,9,10,20,30,40,50,60,70,80,90,100,200,300,400,500,600,700,800,900,1000,2000,3000,4000,5000,6000,7000,8000,9000,10000],"labels":false,"title":null}}}}
      ]},
     {"data":{"values":[{"p":"PFNA","t":"PFNA"}]},"mark":{"type":"text","align":"left","baseline":"middle","fontWeight":"bold","fontSize":18},"encoding":{"x":{"datum":0.45,"type":"quantitative","axis":{"values":[0,1,2,3,4,5,6],"labels":false,"labelOverlap":false,"title":null}},"y":{"datum":2500,"type":"quantitative"},"text":{"field":"t"}}}
    ]},
   {"width":139,"height":140,"data":{"name":"d"},"transform":[{"filter":"datum.p==='PFDA'"}],
    "layer":[
     {"encoding":{"x":{"field":"x","type":"quantitative","scale":{"domain":[0,6],"nice":false,"zero":false},"axis":{"values":[0,1,2,3,4,5,6],"labels":false,"labelOverlap":false,"title":null}}},
      "layer":[
       {"transform":[{"filter":"isValid(datum.lo)"}],"mark":"rule","encoding":{"y":{"field":"lo","type":"quantitative","scale":{"type":"log","domain":[0.01,10000],"nice":false}},"y2":{"field":"hi"}}},
       {"transform":[{"filter":"isValid(datum.lo)"}],"mark":{"type":"tick","orient":"horizontal","size":7},"encoding":{"y":{"field":"lo","type":"quantitative","scale":{"type":"log","domain":[0.01,10000],"nice":false}}}},
       {"transform":[{"filter":"isValid(datum.hi)"}],"mark":{"type":"tick","orient":"horizontal","size":7},"encoding":{"y":{"field":"hi","type":"quantitative","scale":{"type":"log","domain":[0.01,10000],"nice":false}}}},
       {"transform":[{"filter":"datum.k==='s'"}],"mark":"line","encoding":{"y":{"field":"v","type":"quantitative","scale":{"type":"log","domain":[0.01,10000],"nice":false}}}},
       {"transform":[{"filter":"datum.k==='d'"}],"mark":{"type":"line","strokeDash":[5,4]},"encoding":{"y":{"field":"v","type":"quantitative","scale":{"type":"log","domain":[0.01,10000],"nice":false}}}},
       {"transform":[{"filter":"datum.k==='pt'"}],"mark":"circle","encoding":{"y":{"field":"v","type":"quantitative","scale":{"type":"log","domain":[0.01,10000],"nice":false},"axis":{"values":[0.01,0.02,0.03,0.04,0.05,0.06,0.07,0.08,0.09,0.1,0.2,0.3,0.4,0.5,0.6,0.7,0.8,0.9,1,2,3,4,5,6,7,8,9,10,20,30,40,50,60,70,80,90,100,200,300,400,500,600,700,800,900,1000,2000,3000,4000,5000,6000,7000,8000,9000,10000],"labels":false,"title":null}}}}
      ]},
     {"data":{"values":[{"p":"PFDA","t":"PFDA"}]},"mark":{"type":"text","align":"left","baseline":"middle","fontWeight":"bold","fontSize":18},"encoding":{"x":{"datum":0.45,"type":"quantitative","axis":{"values":[0,1,2,3,4,5,6],"labels":false,"labelOverlap":false,"title":null}},"y":{"datum":2500,"type":"quantitative"},"text":{"field":"t"}}}
    ]},
   {"width":139,"height":140,"data":{"name":"d"},"transform":[{"filter":"datum.p==='PFUnA'"}],
    "layer":[
     {"encoding":{"x":{"field":"x","type":"quantitative","scale":{"domain":[0,6],"nice":false,"zero":false},"axis":{"values":[0,1,2,3,4,5,6],"labels":true,"labelOverlap":false,"title":null}}},
      "layer":[
       {"transform":[{"filter":"isValid(datum.lo)"}],"mark":"rule","encoding":{"y":{"field":"lo","type":"quantitative","scale":{"type":"log","domain":[0.01,10000],"nice":false}},"y2":{"field":"hi"}}},
       {"transform":[{"filter":"isValid(datum.lo)"}],"mark":{"type":"tick","orient":"horizontal","size":7},"encoding":{"y":{"field":"lo","type":"quantitative","scale":{"type":"log","domain":[0.01,10000],"nice":false}}}},
       {"transform":[{"filter":"isValid(datum.hi)"}],"mark":{"type":"tick","orient":"horizontal","size":7},"encoding":{"y":{"field":"hi","type":"quantitative","scale":{"type":"log","domain":[0.01,10000],"nice":false}}}},
       {"transform":[{"filter":"datum.k==='s'"}],"mark":"line","encoding":{"y":{"field":"v","type":"quantitative","scale":{"type":"log","domain":[0.01,10000],"nice":false}}}},
       {"transform":[{"filter":"datum.k==='d'"}],"mark":{"type":"line","strokeDash":[5,4]},"encoding":{"y":{"field":"v","type":"quantitative","scale":{"type":"log","domain":[0.01,10000],"nice":false}}}},
       {"transform":[{"filter":"datum.k==='pt'"}],"mark":"circle","encoding":{"y":{"field":"v","type":"quantitative","scale":{"type":"log","domain":[0.01,10000],"nice":false},"axis":{"values":[0.01,0.02,0.03,0.04,0.05,0.06,0.07,0.08,0.09,0.1,0.2,0.3,0.4,0.5,0.6,0.7,0.8,0.9,1,2,3,4,5,6,7,8,9,10,20,30,40,50,60,70,80,90,100,200,300,400,500,600,700,800,900,1000,2000,3000,4000,5000,6000,7000,8000,9000,10000],"labelExpr":"abs(log(datum.value)/LN10-round(log(datum.value)/LN10))<0.001 ? format(datum.value,'') : ''","labels":true,"labelOverlap":false,"title":null}}}}
      ]},
     {"data":{"values":[{"p":"PFUnA","t":"PFUnA"}]},"mark":{"type":"text","align":"left","baseline":"middle","fontWeight":"bold","fontSize":18},"encoding":{"x":{"datum":0.45,"type":"quantitative","axis":{"values":[0,1,2,3,4,5,6],"labels":true,"labelOverlap":false,"title":null}},"y":{"datum":2500,"type":"quantitative"},"text":{"field":"t"}}}
    ]},
   {"width":139,"height":140,"data":{"name":"d"},"transform":[{"filter":"datum.p==='PFDoA'"}],
    "layer":[
     {"encoding":{"x":{"field":"x","type":"quantitative","scale":{"domain":[0,6],"nice":false,"zero":false},"axis":{"values":[0,1,2,3,4,5,6],"labels":true,"labelOverlap":false,"title":null}}},
      "layer":[
       {"transform":[{"filter":"isValid(datum.lo)"}],"mark":"rule","encoding":{"y":{"field":"lo","type":"quantitative","scale":{"type":"log","domain":[0.01,10000],"nice":false}},"y2":{"field":"hi"}}},
       {"transform":[{"filter":"isValid(datum.lo)"}],"mark":{"type":"tick","orient":"horizontal","size":7},"encoding":{"y":{"field":"lo","type":"quantitative","scale":{"type":"log","domain":[0.01,10000],"nice":false}}}},
       {"transform":[{"filter":"isValid(datum.hi)"}],"mark":{"type":"tick","orient":"horizontal","size":7},"encoding":{"y":{"field":"hi","type":"quantitative","scale":{"type":"log","domain":[0.01,10000],"nice":false}}}},
       {"transform":[{"filter":"datum.k==='s'"}],"mark":"line","encoding":{"y":{"field":"v","type":"quantitative","scale":{"type":"log","domain":[0.01,10000],"nice":false}}}},
       {"transform":[{"filter":"datum.k==='d'"}],"mark":{"type":"line","strokeDash":[5,4]},"encoding":{"y":{"field":"v","type":"quantitative","scale":{"type":"log","domain":[0.01,10000],"nice":false}}}},
       {"transform":[{"filter":"datum.k==='pt'"}],"mark":"circle","encoding":{"y":{"field":"v","type":"quantitative","scale":{"type":"log","domain":[0.01,10000],"nice":false},"axis":{"values":[0.01,0.02,0.03,0.04,0.05,0.06,0.07,0.08,0.09,0.1,0.2,0.3,0.4,0.5,0.6,0.7,0.8,0.9,1,2,3,4,5,6,7,8,9,10,20,30,40,50,60,70,80,90,100,200,300,400,500,600,700,800,900,1000,2000,3000,4000,5000,6000,7000,8000,9000,10000],"labels":false,"title":null}}}}
      ]},
     {"data":{"values":[{"p":"PFDoA","t":"PFDoA"}]},"mark":{"type":"text","align":"left","baseline":"middle","fontWeight":"bold","fontSize":18},"encoding":{"x":{"datum":0.55,"type":"quantitative","axis":{"values":[0,1,2,3,4,5,6],"labels":true,"labelOverlap":false,"title":null}},"y":{"datum":2500,"type":"quantitative"},"text":{"field":"t"}}}
    ]},
   {"width":139,"height":140,"data":{"name":"d"},"transform":[{"filter":"datum.p==='PFTA'"}],
    "layer":[
     {"encoding":{"x":{"field":"x","type":"quantitative","scale":{"domain":[0,6],"nice":false,"zero":false},"axis":{"values":[0,1,2,3,4,5,6],"labels":true,"labelOverlap":false,"title":null}}},
      "layer":[
       {"transform":[{"filter":"isValid(datum.lo)"}],"mark":"rule","encoding":{"y":{"field":"lo","type":"quantitative","scale":{"type":"log","domain":[0.01,10000],"nice":false}},"y2":{"field":"hi"}}},
       {"transform":[{"filter":"isValid(datum.lo)"}],"mark":{"type":"tick","orient":"horizontal","size":7},"encoding":{"y":{"field":"lo","type":"quantitative","scale":{"type":"log","domain":[0.01,10000],"nice":false}}}},
       {"transform":[{"filter":"isValid(datum.hi)"}],"mark":{"type":"tick","orient":"horizontal","size":7},"encoding":{"y":{"field":"hi","type":"quantitative","scale":{"type":"log","domain":[0.01,10000],"nice":false}}}},
       {"transform":[{"filter":"datum.k==='s'"}],"mark":"line","encoding":{"y":{"field":"v","type":"quantitative","scale":{"type":"log","domain":[0.01,10000],"nice":false}}}},
       {"transform":[{"filter":"datum.k==='d'"}],"mark":{"type":"line","strokeDash":[5,4]},"encoding":{"y":{"field":"v","type":"quantitative","scale":{"type":"log","domain":[0.01,10000],"nice":false}}}},
       {"transform":[{"filter":"datum.k==='pt'"}],"mark":"circle","encoding":{"y":{"field":"v","type":"quantitative","scale":{"type":"log","domain":[0.01,10000],"nice":false},"axis":{"values":[0.01,0.02,0.03,0.04,0.05,0.06,0.07,0.08,0.09,0.1,0.2,0.3,0.4,0.5,0.6,0.7,0.8,0.9,1,2,3,4,5,6,7,8,9,10,20,30,40,50,60,70,80,90,100,200,300,400,500,600,700,800,900,1000,2000,3000,4000,5000,6000,7000,8000,9000,10000],"labels":false,"title":null}}}}
      ]},
     {"data":{"values":[{"p":"PFTA","t":"PFTA"}]},"mark":{"type":"text","align":"left","baseline":"middle","fontWeight":"bold","fontSize":18},"encoding":{"x":{"datum":0.45,"type":"quantitative","axis":{"values":[0,1,2,3,4,5,6],"labels":true,"labelOverlap":false,"title":null}},"y":{"datum":2500,"type":"quantitative"},"text":{"field":"t"}}}
    ]},
   {"width":139,"height":140,"data":{"name":"d"},"transform":[{"filter":"datum.p==='PFOS'"}],
    "layer":[
     {"encoding":{"x":{"field":"x","type":"quantitative","scale":{"domain":[0,6],"nice":false,"zero":false},"axis":{"values":[0,1,2,3,4,5,6],"labels":true,"labelOverlap":false,"title":null}}},
      "layer":[
       {"transform":[{"filter":"isValid(datum.lo)"}],"mark":"rule","encoding":{"y":{"field":"lo","type":"quantitative","scale":{"type":"log","domain":[0.01,10000],"nice":false}},"y2":{"field":"hi"}}},
       {"transform":[{"filter":"isValid(datum.lo)"}],"mark":{"type":"tick","orient":"horizontal","size":7},"encoding":{"y":{"field":"lo","type":"quantitative","scale":{"type":"log","domain":[0.01,10000],"nice":false}}}},
       {"transform":[{"filter":"isValid(datum.hi)"}],"mark":{"type":"tick","orient":"horizontal","size":7},"encoding":{"y":{"field":"hi","type":"quantitative","scale":{"type":"log","domain":[0.01,10000],"nice":false}}}},
       {"transform":[{"filter":"datum.k==='s'"}],"mark":"line","encoding":{"y":{"field":"v","type":"quantitative","scale":{"type":"log","domain":[0.01,10000],"nice":false}}}},
       {"transform":[{"filter":"datum.k==='d'"}],"mark":{"type":"line","strokeDash":[5,4]},"encoding":{"y":{"field":"v","type":"quantitative","scale":{"type":"log","domain":[0.01,10000],"nice":false}}}},
       {"transform":[{"filter":"datum.k==='pt'"}],"mark":"circle","encoding":{"y":{"field":"v","type":"quantitative","scale":{"type":"log","domain":[0.01,10000],"nice":false},"axis":{"values":[0.01,0.02,0.03,0.04,0.05,0.06,0.07,0.08,0.09,0.1,0.2,0.3,0.4,0.5,0.6,0.7,0.8,0.9,1,2,3,4,5,6,7,8,9,10,20,30,40,50,60,70,80,90,100,200,300,400,500,600,700,800,900,1000,2000,3000,4000,5000,6000,7000,8000,9000,10000],"labels":false,"title":null}}}}
      ]},
     {"data":{"values":[{"p":"PFOS","t":"PFOS"}]},"mark":{"type":"text","align":"left","baseline":"middle","fontWeight":"bold","fontSize":18},"encoding":{"x":{"datum":0.45,"type":"quantitative","axis":{"values":[0,1,2,3,4,5,6],"labels":true,"labelOverlap":false,"title":null}},"y":{"datum":2500,"type":"quantitative"},"text":{"field":"t"}}}
    ]}
  ]}
 ]}
]
}
